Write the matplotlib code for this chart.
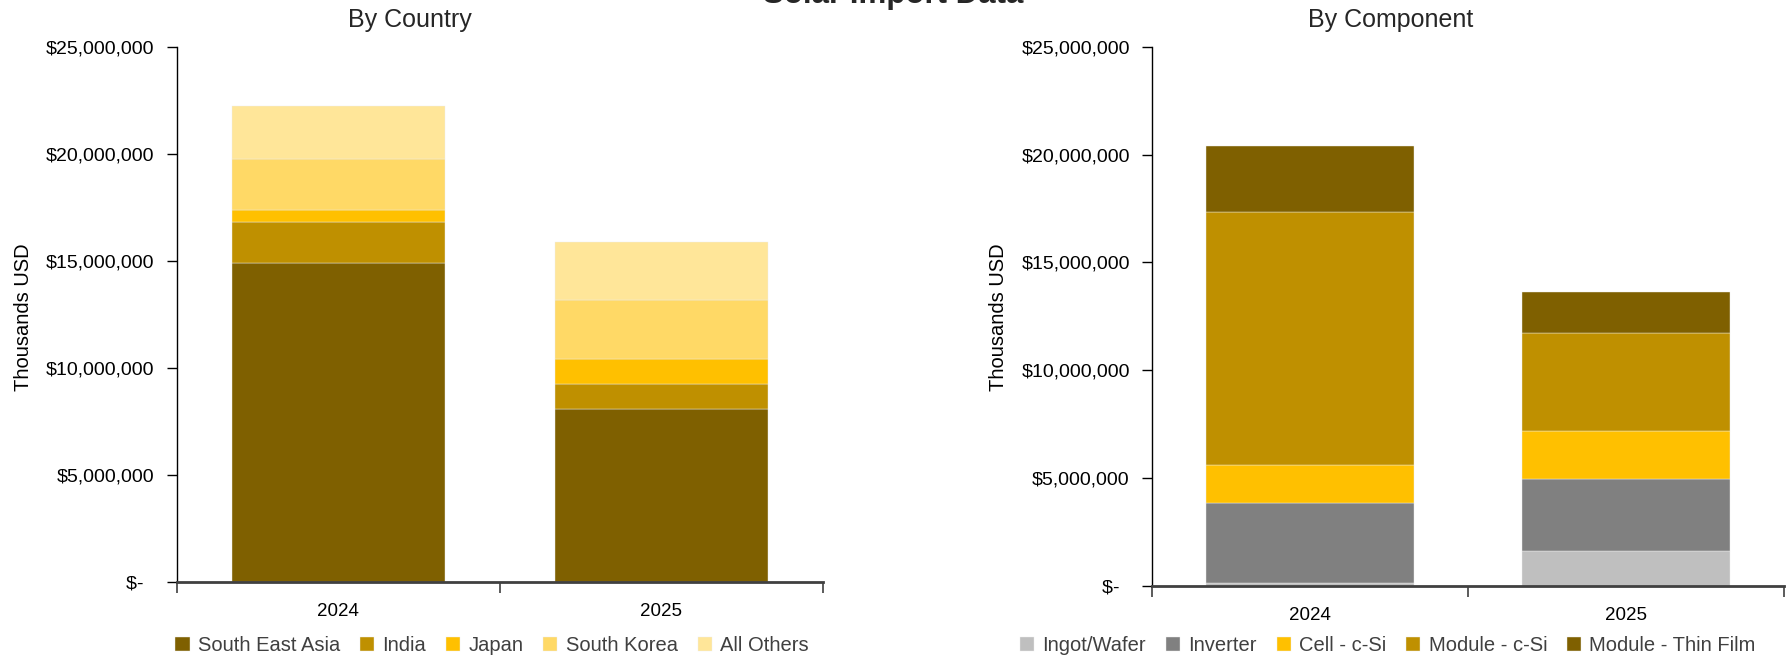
import matplotlib.pyplot as plt
import matplotlib.ticker as mticker
import numpy as np

plt.rcParams['font.family'] = ['Liberation Sans', 'DejaVu Sans']

years = ['2024', '2025']

# imports by origin (thousands USD)
countries = ['South East Asia', 'India', 'Japan', 'South Korea', 'All Others']
south_east_asia = [14890000, 8090000]
india = [1910000, 1160000]
japan = [590000, 1200000]
south_korea = [2390000, 2720000]
all_others = [2440000, 2740000]
country_colors = ['#7F6000', '#BF9000', '#FFC000', '#FFD966', '#FFE699']

# imports by component (thousands USD)
components = ['Ingot/Wafer', 'Inverter', 'Cell - c-Si', 'Module - c-Si', 'Module - Thin Film']
ingot_wafer = [110000, 1630000]
inverter = [3730000, 3340000]
cell_csi = [1780000, 2230000]
module_csi = [11700000, 4520000]
module_thin = [3060000, 1900000]
component_colors = ['#BFBFBF', '#808080', '#FFC000', '#BF9000', '#7F6000']


def money(v, pos):
    if v == 0:
        return '$-  '
    return '${:,.0f}'.format(v)


def stacked(ax, series, labels, colors):
    x = np.arange(len(years))
    bottom = np.zeros(len(years))
    for vals, lab, col in zip(series, labels, colors):
        ax.bar(x, vals, 0.66, bottom=bottom, color=col, label=lab,
               edgecolor='#ececec', linewidth=0.3)
        bottom += np.array(vals)
    ax.set_xlim(-0.5, 1.5)
    ax.set_ylim(0, 25000000)
    ax.set_yticks(np.arange(0, 25000001, 5000000))
    ax.yaxis.set_major_formatter(mticker.FuncFormatter(money))
    ax.set_xticks(x)
    ax.set_xticklabels(years)
    ax.set_xticks([-0.5, 0.5, 1.5], minor=True)
    ax.tick_params(axis='x', which='major', length=0, pad=15, labelsize=13.5)
    ax.tick_params(axis='x', which='minor', length=8, width=1.2, color='#404040')
    ax.tick_params(axis='y', length=7, width=1, pad=9, labelsize=14)
    for s in ['top', 'right']:
        ax.spines[s].set_visible(False)
    ax.spines['left'].set_linewidth(1)
    ax.spines['bottom'].set_linewidth(2)
    ax.spines['bottom'].set_color('#404040')


fig = plt.figure(figsize=(17.87, 6.59), dpi=100)
ax1 = fig.add_axes([0.0990, 0.1162, 0.3615, 0.8129])
ax2 = fig.add_axes([0.6447, 0.1111, 0.3537, 0.8180])

stacked(ax1, [south_east_asia, india, japan, south_korea, all_others],
        countries, country_colors)
stacked(ax2, [ingot_wafer, inverter, cell_csi, module_csi, module_thin],
        components, component_colors)

fig.text(0.500, 0.9955, 'Solar Import Data', ha='center', va='baseline',
         fontsize=22.5, fontweight='bold', color='#262626')
fig.text(0.2295, 0.969, 'By Country', ha='center', va='center',
         fontsize=18, color='#262626')
fig.text(0.778, 0.969, 'By Component', ha='center', va='center',
         fontsize=18, color='#262626')
fig.text(0.0129, 0.519, 'Thousands USD', rotation=90, ha='center',
         va='center', fontsize=14.5)
fig.text(0.5586, 0.519, 'Thousands USD', rotation=90, ha='center',
         va='center', fontsize=14.5)

for ax, cx in [(ax1, 0.2753), (ax2, 0.7767)]:
    h, l = ax.get_legend_handles_labels()
    fig.legend(h, l, loc='center', bbox_to_anchor=(cx, 0.021), ncol=5,
               frameon=False, fontsize=14.5, handlelength=0.7,
               handleheight=0.7, handletextpad=0.4, columnspacing=1.0,
               labelcolor='#404040')

plt.savefig('out.png', dpi=100)
